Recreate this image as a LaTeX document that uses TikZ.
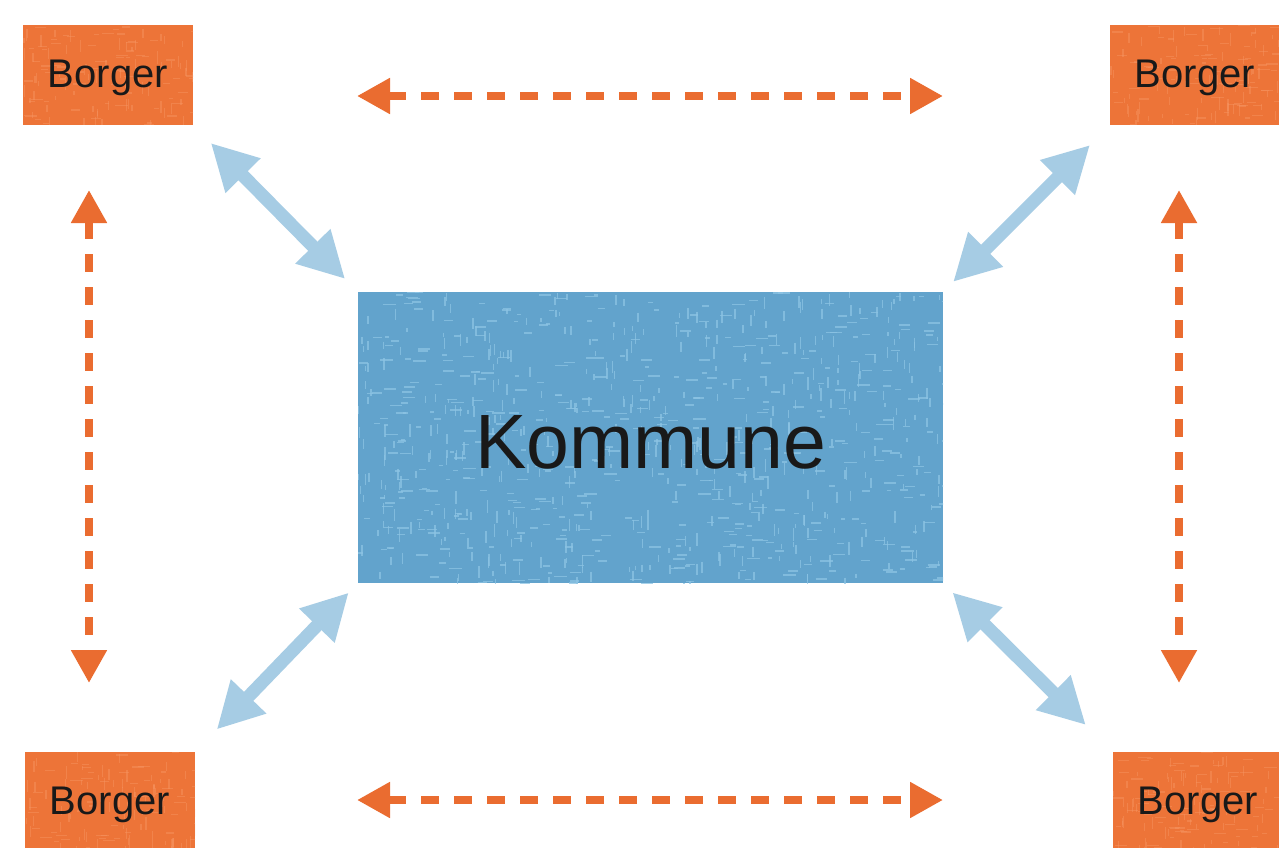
\documentclass[tikz,border=0pt]{standalone}
\usepackage{fontspec}
\setmainfont{Liberation Sans}
\usetikzlibrary{arrows.meta,calc}
\definecolor{borg}{RGB}{237,116,56}
\definecolor{borgtex}{RGB}{246,150,100}
\definecolor{kom}{RGB}{98,163,204}
\definecolor{komtex}{RGB}{140,196,228}
\definecolor{lblue}{RGB}{166,204,228}
\definecolor{oarr}{RGB}{234,108,48}
\newcommand{\mytexture}[4]{%
  \foreach \i in {1,...,#1}{%
    \pgfmathsetmacro\xx{#2*rnd}%
    \pgfmathsetmacro\yy{#3*rnd}%
    \pgfmathsetmacro\ll{4+9*rnd}%
    \pgfmathtruncatemacro\dd{rnd<0.5 ? 1 : 0}%
    \ifnum\dd=1
      \draw[#4] ($(path picture bounding box.north west)+(\xx,\yy)$) -- ++(\ll,0);
    \else
      \draw[#4] ($(path picture bounding box.north west)+(\xx,\yy)$) -- ++(0,\ll);
    \fi
  }}
\begin{document}
\begin{tikzpicture}[x=1pt,y=-1pt,
  ktex/.style={draw=komtex, line width=1.5pt, opacity=0.75},
  btex/.style={draw=borgtex, line width=1.2pt, opacity=0.45},
  borger/.style={fill=borg, minimum width=170pt, minimum height=100pt, inner sep=0pt,
    text height=32.6pt, text depth=8.4pt,
    font=\fontsize{40}{48}\selectfont, text=black!90,
    path picture={\mytexture{160}{180}{110}{btex}}},
  kommune/.style={fill=kom, minimum width=585pt, minimum height=291pt, inner sep=0pt,
    text height=61pt, text depth=0pt,
    font=\fontsize{77}{90}\selectfont, text=black!90,
    path picture={\mytexture{900}{590}{295}{ktex}}},
  oarrow/.style={draw=oarr, line width=8pt, dash pattern=on 18pt off 15pt,
    {Triangle[width=34pt,length=33pt]}-{Triangle[width=34pt,length=33pt]}},
  barrow/.style={draw=lblue, line width=13pt,
    {Triangle[width=46pt,length=46pt]}-{Triangle[width=46pt,length=46pt]}}
]
\pgfmathsetseed{42}
\useasboundingbox (0,0) rectangle (1279,848);
\clip (0,0) rectangle (1279,848);
\fill[white] (0,0) rectangle (1279,848);

\node[borger] (b1) at (108,75) {Borger};
\node[borger] (b2) at (1195,75) {Borger};
\node[borger] (b3) at (110,802) {Borger};
\node[borger] (b4) at (1198,802) {Borger};
\node[kommune] (k) at (650.5,437.5) {Kommune};

\coordinate (tl) at (357,96);
\coordinate (tr) at (943,96);
\coordinate (bl) at (357,800);
\coordinate (br) at (943,800);
\coordinate (lt) at (89,190);
\coordinate (lb) at (89,683);
\coordinate (rt) at (1179,190);
\coordinate (rb) at (1179,683);

\draw[oarrow] (tl) -- (tr);
\draw[oarrow] (bl) -- (br);
\draw[oarrow] (lt) -- (lb);
\draw[oarrow] (rt) -- (rb);

\draw[barrow, shorten <=25pt, shorten >=18pt] (b1.south east) -- (k.north west);
\draw[barrow, shorten <=28pt, shorten >=14pt] (b2.south west) -- (k.north east);
\draw[barrow, shorten <=31pt, shorten >=13pt] (b3.north east) -- (k.south west);
\draw[barrow, shorten <=38pt, shorten >=13pt] (b4.north west) -- (k.south east);
\end{tikzpicture}
\end{document}
